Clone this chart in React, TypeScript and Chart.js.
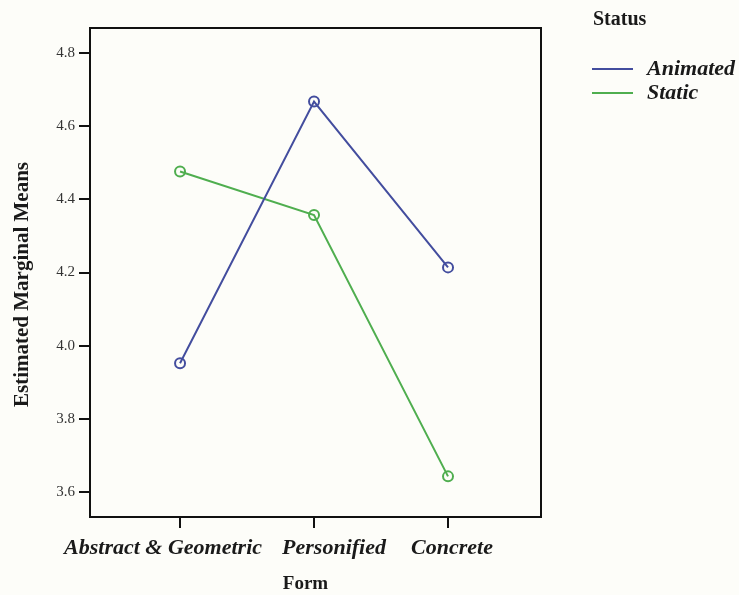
import React, { useEffect, useRef } from "react";
import { Chart, registerables } from "chart.js";

Chart.register(...registerables);

const categories = ["Abstract & Geometric", "Personified", "Concrete"];
const animatedValues = [3.952, 4.667, 4.214];
const staticValues = [4.476, 4.357, 3.643];
const yTicks = [3.6, 3.8, 4.0, 4.2, 4.4, 4.6, 4.8];
const seriesNames = ["Animated", "Static"];
const legendTitle = "Status";
const xTitle = "Form";
const yTitle = "Estimated Marginal Means";

const BLUE = "#434d9e";
const GREEN = "#4fae4f";
const SERIF = "'Liberation Serif', 'DejaVu Serif', serif";
const labelShift = [-17, 20, 4];

export default function App() {
  const ref = useRef<HTMLCanvasElement | null>(null);
  useEffect(() => {
    if (!ref.current) return;
    const decor = {
      id: "decor",
      beforeDraw(chart: any) {
        const c = chart.ctx;
        c.save();
        c.fillStyle = "#fdfdf9";
        c.fillRect(0, 0, chart.width, chart.height);
        c.restore();
      },
      afterDraw(chart: any) {
        const c = chart.ctx;
        const a = chart.chartArea;
        const xs = chart.scales.x;
        c.save();
        c.strokeStyle = "#111";
        c.lineWidth = 2;
        c.beginPath();
        c.moveTo(a.left, a.bottom);
        c.lineTo(a.left, a.top);
        c.lineTo(a.right, a.top);
        c.lineTo(a.right, a.bottom);
        c.lineTo(a.left, a.bottom);
        c.stroke();
        // x category labels
        c.fillStyle = "#1a1a1a";
        c.font = `bold italic 22px ${SERIF}`;
        c.textAlign = "center";
        c.textBaseline = "middle";
        categories.forEach((lab, i) => {
          c.fillText(lab, xs.getPixelForValue(i) + labelShift[i], a.bottom + 31);
        });
        // axis titles
        c.font = `bold 19px ${SERIF}`;
        c.fillText(xTitle, (a.left + a.right) / 2 - 10, a.bottom + 67);
        c.save();
        c.font = `bold 21px ${SERIF}`;
        c.translate(23, (a.top + a.bottom) / 2 + 12);
        c.rotate(-Math.PI / 2);
        c.fillText(yTitle, 0, 0);
        c.restore();
        // legend
        c.textAlign = "left";
        c.font = `bold 20px ${SERIF}`;
        c.fillText(legendTitle, 593, 20);
        const colors = [BLUE, GREEN];
        c.font = `bold italic 22px ${SERIF}`;
        seriesNames.forEach((n, i) => {
          const y = 69 + i * 24;
          c.strokeStyle = colors[i];
          c.lineWidth = 2;
          c.beginPath();
          c.moveTo(592, y);
          c.lineTo(633, y);
          c.stroke();
          c.fillStyle = "#1a1a1a";
          c.fillText(n, 647, y);
        });
        c.restore();
      },
    };
    const mk = (vals: number[]) => vals.map((v, i) => ({ x: i, y: v }));
    const chart = new Chart(ref.current, {
      type: "line",
      data: {
        datasets: [
          {
            label: seriesNames[0],
            data: mk(animatedValues),
            borderColor: BLUE,
            borderWidth: 2,
            pointRadius: 5,
            pointBorderWidth: 2,
            pointBorderColor: BLUE,
            pointBackgroundColor: "rgba(0,0,0,0)",
          },
          {
            label: seriesNames[1],
            data: mk(staticValues),
            borderColor: GREEN,
            borderWidth: 2,
            pointRadius: 5,
            pointBorderWidth: 2,
            pointBorderColor: GREEN,
            pointBackgroundColor: "rgba(0,0,0,0)",
          },
        ],
      },
      options: {
        animation: false,
        responsive: false,
        devicePixelRatio: 1,
        layout: { padding: { left: 0, top: 28, right: 198, bottom: 0 } },
        plugins: { legend: { display: false }, tooltip: { enabled: false } },
        scales: {
          x: {
            type: "linear",
            min: -0.672,
            max: 2.694,
            afterBuildTicks: (s: any) => {
              s.ticks = categories.map((_, i) => ({ value: i }));
            },
            afterFit: (s: any) => {
              s.height = 78;
            },
            ticks: { display: false },
            grid: {
              drawOnChartArea: false,
              drawTicks: true,
              tickLength: 11,
              color: "#111",
              lineWidth: 2,
            },
            border: { display: true, color: "#111", width: 2 },
          },
          y: {
            type: "linear",
            min: 3.532,
            max: 4.868,
            afterBuildTicks: (s: any) => {
              s.ticks = yTicks.map((v) => ({ value: v }));
            },
            afterFit: (s: any) => {
              s.width = 90;
            },
            ticks: {
              color: "#333",
              padding: 4,
              font: { family: SERIF, size: 15 },
              callback: (v: any) => Number(v).toFixed(1),
            },
            grid: {
              drawOnChartArea: false,
              drawTicks: true,
              tickLength: 11,
              color: "#111",
              lineWidth: 2,
            },
            border: { display: true, color: "#111", width: 2 },
          },
        },
      },
      plugins: [decor],
    });
    return () => chart.destroy();
  }, []);
  return (
    <div style={{ position: "fixed", left: 0, top: 0, width: 739, height: 595 }}>
      <canvas ref={ref} width={739} height={595} style={{ width: 739, height: 595, display: "block" }} />
    </div>
  );
}
